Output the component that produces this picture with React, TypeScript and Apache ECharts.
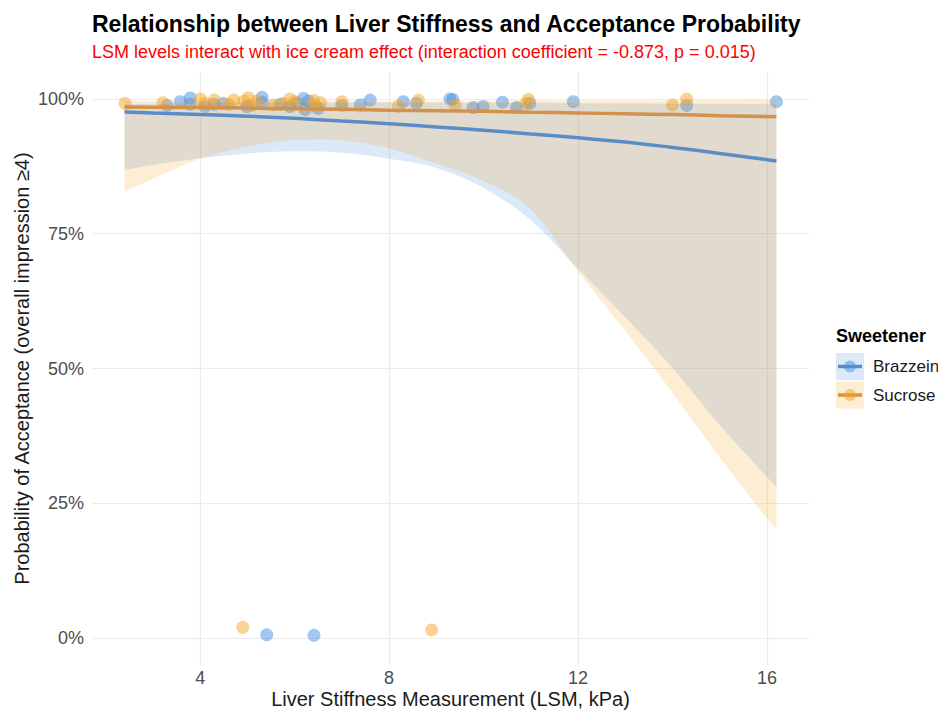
import React, { useEffect, useRef } from "react";
import * as echarts from "echarts";

// ---- Data ----
const titleText = "Relationship between Liver Stiffness and Acceptance Probability";
const subtitleText = "LSM levels interact with ice cream effect (interaction coefficient = -0.873, p = 0.015)";
const xTitle = "Liver Stiffness Measurement (LSM, kPa)";
const yTitle = "Probability of Acceptance (overall impression \u22654)";
const legendTitle = "Sweetener";
const groups = ["Brazzein", "Sucrose"];

// sample positions for the fitted curves and confidence bands (LSM, kPa)
const fitX = [2.4, 3, 4, 5, 6, 7, 8, 9, 10, 11, 12, 13, 14, 15, 16.2];

// fitted probability (%)
const brazzeinFit = [97.6, 97.4, 97.1, 96.8, 96.4, 95.9, 95.4, 94.8, 94.2, 93.5, 92.8, 92.0, 91.0, 89.9, 88.5];
const brazzeinLower = [86.8, 87.8, 89.0, 89.9, 90.3, 90.0, 88.9, 87.2, 83.5, 77.5, 68.5, 59.5, 50.1, 39.5, 28.0];
const brazzeinUpper = [99.0, 99.1, 99.2, 99.3, 99.3, 99.3, 99.3, 99.3, 99.3, 99.3, 99.2, 99.2, 99.1, 99.1, 99.0];

const sucroseFit = [98.5, 98.45, 98.4, 98.3, 98.2, 98.1, 97.9, 97.8, 97.7, 97.55, 97.4, 97.25, 97.1, 96.9, 96.7];
const sucroseLower = [82.8, 85.2, 88.9, 91.2, 92.4, 92.3, 90.8, 88.0, 84.8, 79.5, 68.0, 57.0, 45.5, 33.5, 20.0];
const sucroseUpper = [99.6, 99.6, 99.6, 99.6, 99.6, 99.6, 99.6, 99.6, 99.6, 99.7, 99.7, 99.7, 99.7, 99.8, 99.8];

// jittered observations [LSM, acceptance %]
const brazzeinPoints = [
  [3.30, 98.8], [3.58, 99.5], [3.79, 100.2], [3.79, 99.0], [4.10, 98.6], [4.30, 99.0], [4.49, 99.2],
  [4.99, 98.6], [5.31, 100.3], [5.31, 99.4], [5.41, 0.6], [5.70, 99.0], [5.90, 98.6], [6.05, 99.2],
  [6.19, 100.1], [6.22, 98.0], [6.29, 99.6], [6.41, 0.5], [6.50, 98.2], [7.00, 98.8], [7.39, 98.9],
  [7.60, 99.8], [8.30, 99.5], [8.58, 99.2], [9.29, 100.0], [9.35, 99.9], [9.78, 98.4], [9.99, 98.6],
  [10.40, 99.4], [10.70, 98.4], [10.98, 99.2], [11.90, 99.5], [14.30, 98.8], [16.20, 99.5],
];
const sucrosePoints = [
  [2.41, 99.2], [3.21, 99.3], [4.00, 100.0], [4.11, 99.2], [4.30, 99.8], [4.60, 99.0], [4.71, 99.8],
  [4.90, 2.0], [4.93, 99.6], [5.02, 100.2], [5.10, 98.8], [5.20, 99.6], [5.55, 98.9], [5.76, 99.2],
  [5.90, 100.0], [6.00, 99.5], [6.40, 99.7], [6.43, 98.8], [6.55, 99.3], [7.00, 99.5], [8.20, 98.6],
  [8.62, 99.8], [8.90, 1.5], [9.40, 98.9], [10.90, 99.2], [10.95, 99.9], [14.00, 98.9], [14.30, 100.0],
];

// ---- Styles ----
const FONT = "Liberation Sans, Arial, Helvetica, sans-serif";
const BLUE = "#4A90E2";
const ORANGE = "#F5A623";
const BLUE_BAND = "rgba(74,144,226,0.2)";
const ORANGE_BAND = "rgba(245,166,35,0.2)";
const BLUE_LINE = "#5B8CC9";
const ORANGE_LINE = "#D4914B";

const pairs = (xs: number[], ys: number[]) => xs.map((x, i) => [x, ys[i]]);

export default function App() {
  const ref = useRef<HTMLDivElement>(null);

  useEffect(() => {
    if (!ref.current) return;
    const chart = echarts.init(ref.current, null, { renderer: "svg" });

    const bandSeries = (name: string, lo: number[], hi: number[], fill: string) => ({
      name: name + " 95% CI",
      type: "custom",
      coordinateSystem: "cartesian2d",
      data: [[fitX[0], lo[0]]],
      encode: { x: 0, y: 1 },
      silent: true,
      z: 3,
      renderItem: (_params: any, api: any) => {
        const up = fitX.map((x, i) => api.coord([x, hi[i]]));
        const dn = fitX.map((x, i) => api.coord([x, lo[i]])).reverse();
        // corners duplicated so the smoothing keeps the band ends straight
        const pts = [up[0], ...up, up[up.length - 1], dn[0], ...dn, dn[dn.length - 1]];
        return {
          type: "polygon",
          shape: { points: pts, smooth: 0.35 },
          style: { fill, stroke: "none" },
        };
      },
    });

    const legendItem = (y: number, label: string, fill: string, line: string, pt: string) => [
      { type: "rect", shape: { x: 836, y: y - 13.5, width: 28, height: 27 }, style: { fill } },
      { type: "line", shape: { x1: 838, y1: y, x2: 862, y2: y }, style: { stroke: line, lineWidth: 3.5 } },
      { type: "circle", shape: { cx: 850, cy: y, r: 6 }, style: { fill: pt, opacity: 0.5 } },
      {
        type: "text",
        x: 873,
        y,
        style: { text: label, fontSize: 17, fontFamily: FONT, fill: "#1a1a1a", verticalAlign: "middle" },
      },
    ];

    chart.setOption({
      animation: false,
      backgroundColor: "#ffffff",
      title: [
        {
          text: titleText,
          left: 92,
          top: 12,
          padding: 0,
          textStyle: { fontSize: 23, fontWeight: "bold", color: "#000000", fontFamily: FONT },
        },
        {
          text: subtitleText,
          left: 92,
          top: 43,
          padding: 0,
          textStyle: { fontSize: 18, fontWeight: "normal", color: "#ff0000", fontFamily: FONT },
        },
      ],
      grid: { left: 92, right: 129, top: 72, bottom: 46, containLabel: false, outerBoundsMode: "none" },
      xAxis: {
        type: "value",
        min: 1.71,
        max: 16.89,
        minInterval: 4,
        maxInterval: 4,
        name: xTitle,
        nameLocation: "middle",
        nameGap: 24,
        nameMoveOverlap: false,
        nameTextStyle: { fontSize: 20, color: "#1a1a1a", fontFamily: FONT, lineHeight: 20 },
        axisLine: { show: false },
        axisTick: { show: false },
        axisLabel: {
          fontSize: 18,
          color: "#4d4d4d",
          fontFamily: FONT,
          margin: 4,
          showMinLabel: false,
          showMaxLabel: false,
        },
        splitLine: { show: true, showMinLine: false, showMaxLine: false, lineStyle: { color: "#ebebeb", width: 1.2 } },
      },
      yAxis: {
        type: "value",
        min: -5,
        max: 105,
        minInterval: 25,
        maxInterval: 25,
        name: yTitle,
        nameLocation: "middle",
        nameGap: 60,
        nameMoveOverlap: false,
        nameRotate: 90,
        nameTextStyle: { fontSize: 20, color: "#1a1a1a", fontFamily: FONT, lineHeight: 20 },
        axisLine: { show: false },
        axisTick: { show: false },
        axisLabel: {
          fontSize: 18,
          color: "#4d4d4d",
          fontFamily: FONT,
          margin: 8,
          showMinLabel: false,
          showMaxLabel: false,
          formatter: (v: number) => v + "%",
        },
        splitLine: { show: true, showMinLine: false, showMaxLine: false, lineStyle: { color: "#ebebeb", width: 1.2 } },
      },
      series: [
        {
          name: groups[0] + " points",
          type: "scatter",
          data: brazzeinPoints,
          symbolSize: 13,
          itemStyle: { color: BLUE, opacity: 0.5 },
          z: 2,
        },
        {
          name: groups[1] + " points",
          type: "scatter",
          data: sucrosePoints,
          symbolSize: 13,
          itemStyle: { color: ORANGE, opacity: 0.5 },
          z: 2,
        },
        bandSeries(groups[0], brazzeinLower, brazzeinUpper, BLUE_BAND),
        bandSeries(groups[1], sucroseLower, sucroseUpper, ORANGE_BAND),
        {
          name: groups[0],
          type: "line",
          data: pairs(fitX, brazzeinFit),
          smooth: true,
          symbol: "none",
          lineStyle: { color: BLUE_LINE, width: 3.5 },
          z: 4,
        },
        {
          name: groups[1],
          type: "line",
          data: pairs(fitX, sucroseFit),
          smooth: true,
          symbol: "none",
          lineStyle: { color: ORANGE_LINE, width: 3.5 },
          z: 4,
        },
      ],
      graphic: [
        {
          type: "text",
          x: 836,
          y: 336,
          style: {
            text: legendTitle,
            fontSize: 18,
            fontWeight: "bold",
            fontFamily: FONT,
            fill: "#000000",
            verticalAlign: "middle",
          },
        },
        ...legendItem(366.5, groups[0], BLUE_BAND, BLUE_LINE, BLUE),
        ...legendItem(395, groups[1], ORANGE_BAND, ORANGE_LINE, ORANGE),
      ],
    });

    return () => chart.dispose();
  }, []);

  return (
    <div
      ref={ref}
      style={{ position: "absolute", left: 0, top: 0, width: 938, height: 711, overflow: "hidden" }}
    />
  );
}
